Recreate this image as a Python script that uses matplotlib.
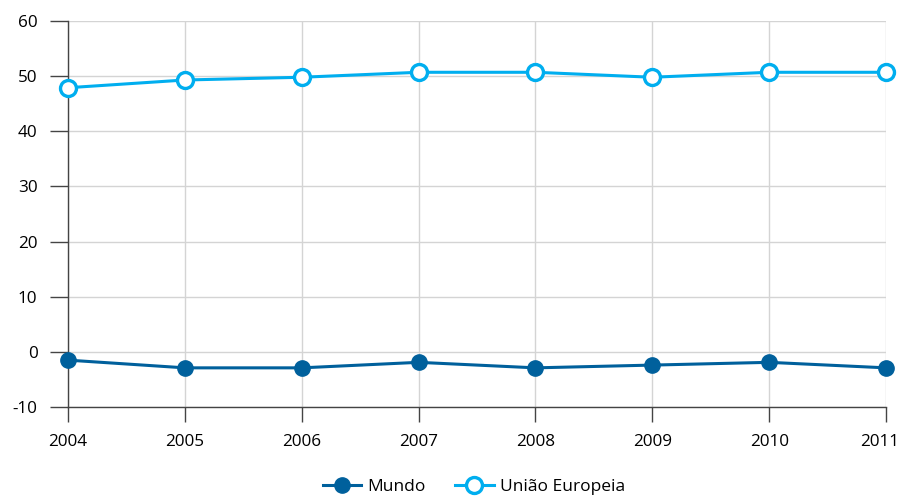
import matplotlib
matplotlib.use("Agg")
import matplotlib.pyplot as plt
import matplotlib.transforms as mtransforms
from matplotlib.lines import Line2D

years = [2004, 2005, 2006, 2007, 2008, 2009, 2010, 2011]
mundo = [-1.5, -2.9, -2.9, -1.9, -2.9, -2.4, -1.9, -2.9]
ue = [47.9, 49.3, 49.8, 50.7, 50.7, 49.8, 50.7, 50.7]
yticks = [-10, 0, 10, 20, 30, 40, 50, 60]
series_names = ["Mundo", "União Europeia"]

c_mundo = "#00609c"
c_ue = "#00aeef"

plt.rcParams['font.family'] = ['Open Sans', 'DejaVu Sans']

fig = plt.figure(figsize=(9.02, 4.97), dpi=100)
ax = fig.add_axes([68/902, 1-407/497, (886-68)/902, (407-21)/497])

ax.plot(years, mundo, color=c_mundo, lw=2.2, marker='o', ms=11,
        mfc=c_mundo, mec=c_mundo, zorder=3, clip_on=False)
ax.plot(years, ue, color=c_ue, lw=2.2, marker='o', ms=11.5,
        mfc='white', mec=c_ue, mew=2.4, zorder=3, clip_on=False)

ax.set_xlim(2004, 2011)
ax.set_ylim(-10, 60)
ax.set_xticks(years)
ax.set_xticklabels([str(y) for y in years])
ax.set_yticks(yticks)
ax.set_yticklabels([str(v) for v in yticks])

ax.grid(True, color='#d4d4d4', lw=1)
ax.set_axisbelow(True)
for s in ['top', 'right']:
    ax.spines[s].set_visible(False)
ax.spines['left'].set_color('#444444')
ax.spines['bottom'].set_color('#444444')
ax.spines['left'].set_linewidth(1)
ax.spines['bottom'].set_linewidth(1)
ax.tick_params(axis='y', length=13, width=1, color='#444444', pad=9, labelsize=12.3)
ax.tick_params(axis='x', length=11, width=1, color='#444444', pad=8.5, labelsize=12.3)

# keep the last year label inside the figure edge
last = ax.get_xticklabels()[-1]
last.set_horizontalalignment('right')
last.set_transform(last.get_transform() + mtransforms.ScaledTranslation(13/100, 0, fig.dpi_scale_trans))

handles = [
    Line2D([], [], color=c_mundo, lw=2.2, marker='o', ms=11, mfc=c_mundo, mec=c_mundo),
    Line2D([], [], color=c_ue, lw=2.2, marker='o', ms=11.5, mfc='white', mec=c_ue, mew=2.4),
]
fig.legend(handles, series_names, loc='center', bbox_to_anchor=(474/902, 1-487/497),
           ncol=2, frameon=False, fontsize=12.5, handlelength=2.2, columnspacing=1.7,
           handletextpad=0.35)

fig.savefig("out.png", dpi=100)
